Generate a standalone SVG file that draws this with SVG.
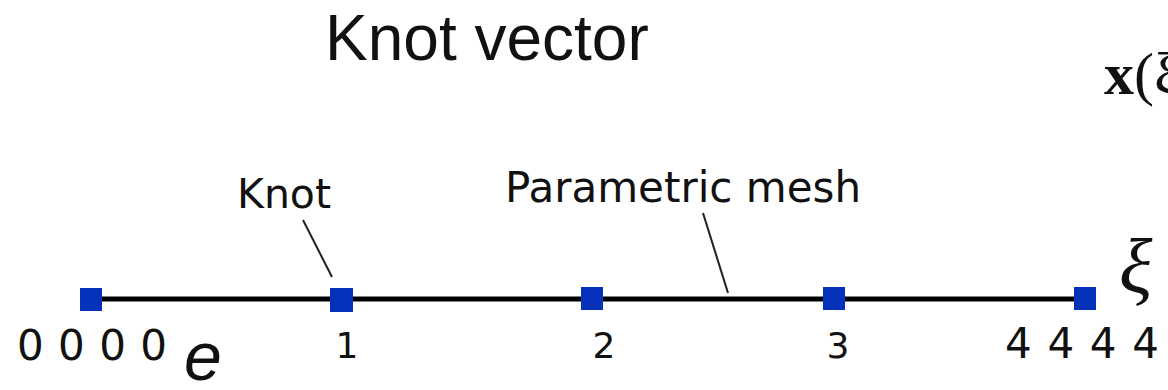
<svg xmlns="http://www.w3.org/2000/svg" width="1168" height="390" viewBox="0 0 1168 390">
<style>
.knot{fill:#0531bb}
.lbl{font-family:"DejaVu Sans",sans-serif;fill:#111}
.lead{stroke:#222;stroke-width:2;fill:none}
</style>
<rect width="1168" height="390" fill="#fff"/>
<text x="325" y="60" font-family="Liberation Sans, Arial, sans-serif" font-size="64" fill="#111">Knot vector</text>
<text x="1104" y="94" font-family="Liberation Serif, serif" font-size="60" fill="#111"><tspan font-weight="bold">x</tspan>(ξ)</text>
<g id="connectors">
<line x1="91" y1="299" x2="1085" y2="299" stroke="#000" stroke-width="5"/>
<line class="lead" x1="303" y1="220" x2="332" y2="277"/>
<line class="lead" x1="703" y1="213" x2="728" y2="293"/>
</g>
<g id="k0"><rect class="knot" x="80" y="288" width="22" height="23"/></g>
<g id="k1"><rect class="knot" x="330" y="288" width="23" height="24"/></g>
<g id="k2"><rect class="knot" x="581" y="287" width="22" height="23"/></g>
<g id="k3"><rect class="knot" x="823" y="287" width="22" height="23"/></g>
<g id="k4"><rect class="knot" x="1074" y="287" width="22" height="23"/></g>
<g id="labels">
<text class="lbl" x="237" y="208" font-size="41">Knot</text>
<text class="lbl" x="505" y="202" font-size="42">Parametric mesh</text>
<text class="lbl" x="17" y="360" font-size="42" textLength="150" lengthAdjust="spacing">0 0 0 0</text>
<text class="lbl" x="1005" y="358" font-size="42" textLength="154" lengthAdjust="spacing">4 4 4 4</text>
<text class="lbl" x="347" y="358" font-size="36" text-anchor="middle">1</text>
<text class="lbl" x="604" y="358" font-size="36" text-anchor="middle">2</text>
<text class="lbl" x="838" y="358" font-size="36" text-anchor="middle">3</text>
<text x="184" y="380" font-family="Liberation Sans, Arial, sans-serif" font-style="italic" font-size="68" fill="#111">e</text>
<text x="1119" y="293" font-family="Liberation Serif, serif" font-style="italic" font-size="78" fill="#111">ξ</text>
</g>
</svg>
